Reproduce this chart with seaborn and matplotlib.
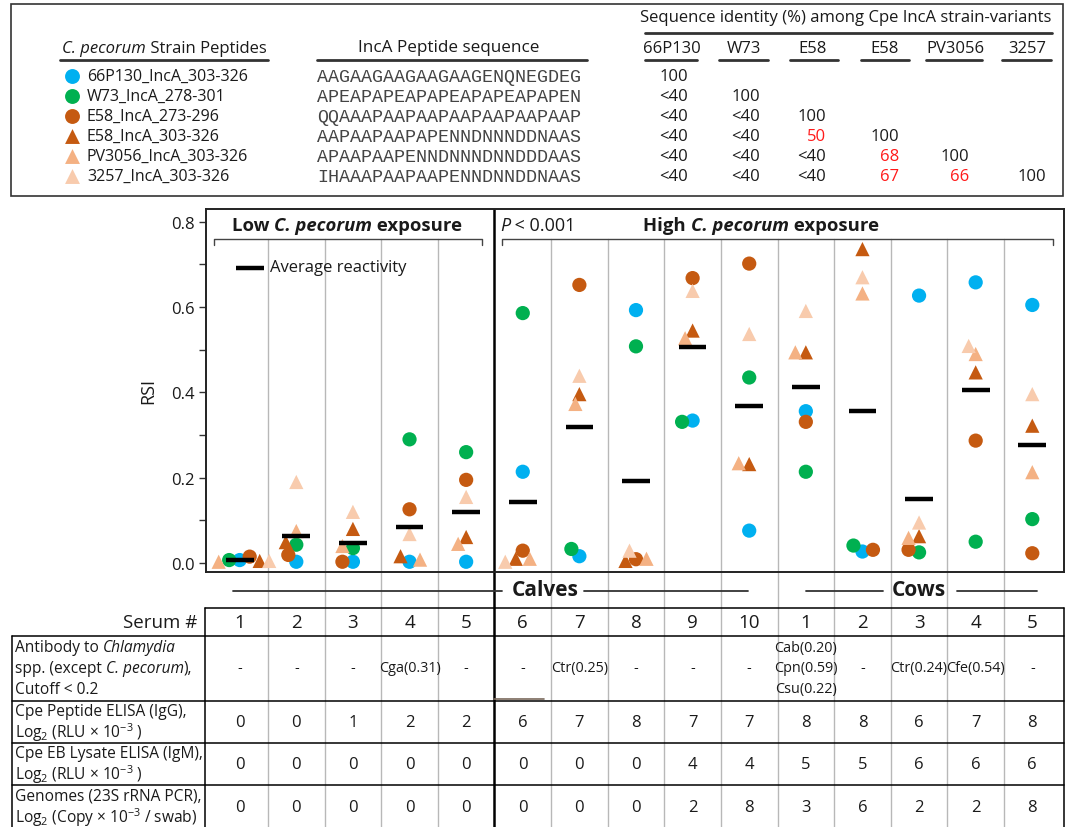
import numpy as np
import pandas as pd
import matplotlib
matplotlib.use("Agg")
import matplotlib.pyplot as plt
import seaborn as sns
from matplotlib.ticker import FormatStrFormatter
from matplotlib.patches import Rectangle

# ---------------- data ----------------
serum_ids = ["1", "2", "3", "4", "5", "6", "7", "8", "9", "10", "1", "2", "3", "4", "5"]
group_names = ["Calves", "Cows"]
group_sizes = [10, 5]

peptides = ["66P130_IncA_303-326", "W73_IncA_278-301", "E58_IncA_273-296",
            "E58_IncA_303-326", "PV3056_IncA_303-326", "3257_IncA_303-326"]
sequences = ["AAGAAGAAGAAGAAGENQNEGDEG", "APEAPAPEAPAPEAPAPEAPAPEN",
             "QQAAAPAAPAAPAAPAAPAAPAAP", "AAPAAPAAPAPENNDNNNDDNAAS",
             "APAAPAAPENNDNNNDNNDDDAAS", "IHAAAPAAPAAPENNDNNDDNAAS"]
strain_headers = ["66P130", "W73", "E58", "E58", "PV3056", "3257"]
identity = [["100"],
            ["<40", "100"],
            ["<40", "<40", "100"],
            ["<40", "<40", "50", "100"],
            ["<40", "<40", "<40", "68", "100"],
            ["<40", "<40", "<40", "67", "66", "100"]]

rsi_66P130 = [0.007, 0.003, 0.003, 0.003, 0.003, 0.214, 0.016, 0.593, 0.334, 0.076, 0.356, 0.027, 0.627, 0.658, 0.605]
rsi_W73 = [0.007, 0.043, 0.035, 0.290, 0.260, 0.586, 0.033, 0.508, 0.331, 0.435, 0.214, 0.041, 0.025, 0.050, 0.103]
rsi_E58_273 = [0.015, 0.019, 0.003, 0.126, 0.195, 0.029, 0.652, 0.009, 0.668, 0.702, 0.331, 0.031, 0.031, 0.287, 0.023]
rsi_E58_303 = [0.005, 0.049, 0.080, 0.016, 0.061, 0.010, 0.396, 0.005, 0.545, 0.232, 0.494, 0.736, 0.063, 0.447, 0.322]
rsi_PV3056 = [0.003, 0.075, 0.040, 0.008, 0.045, 0.010, 0.373, 0.010, 0.527, 0.234, 0.494, 0.632, 0.059, 0.490, 0.213]
rsi_3257 = [0.005, 0.190, 0.120, 0.068, 0.155, 0.003, 0.439, 0.029, 0.638, 0.537, 0.591, 0.670, 0.095, 0.509, 0.396]

antibody_other = ["-", "-", "-", "Cga(0.31)", "-", "-", "Ctr(0.25)", "-", "-", "-",
                  "Cab(0.20)\nCpn(0.59)\nCsu(0.22)", "-", "Ctr(0.24)", "Cfe(0.54)", "-"]
peptide_elisa_igg = [0, 0, 1, 2, 2, 6, 7, 8, 7, 7, 8, 8, 6, 7, 8]
eb_lysate_igm = [0, 0, 0, 0, 0, 0, 0, 0, 4, 4, 5, 5, 6, 6, 6]
genomes_pcr = [0, 0, 0, 0, 0, 0, 0, 0, 2, 8, 3, 6, 2, 2, 8]

colors = ["#00b0f0", "#00b050", "#c55a11", "#c55a11", "#f4b183", "#f8cbad"]
marker_shapes = ["o", "o", "o", "^", "^", "^"]

# ---------------- style ----------------
sns.set_theme(style="white")
plt.rcParams["font.family"] = ["Open Sans", "DejaVu Sans"]
plt.rcParams["mathtext.fontset"] = "custom"
plt.rcParams["mathtext.rm"] = "Open Sans"
plt.rcParams["mathtext.it"] = "Open Sans:italic"
plt.rcParams["mathtext.bf"] = "Open Sans:bold"
INK = "#1a1a1a"

W, H = 1070, 828
fig = plt.figure(figsize=(W / 100, H / 100), dpi=100)
fig.patch.set_facecolor("white")

# overlay in pixel units for the frame, tables and annotations
ov = fig.add_axes([0, 0, 1, 1], zorder=0)
ov.set_xlim(0, W)
ov.set_ylim(H, 0)
ov.axis("off")

ax = fig.add_axes([206 / W, 1 - 573 / H, (1064 - 206) / W, (573 - 210) / H], zorder=1)
ax.patch.set_alpha(0)
ax.set_xlim(-0.595, 14.56)
ax.set_ylim(-0.021, 0.830)

renderer = fig.canvas.get_renderer()


def rich(x, y, parts, ha="left", size=12, color=INK, va="center"):
    """Draw a run of differently styled pieces side by side on the overlay."""
    items = []
    for s, props in parts:
        t = ov.text(0, y, s, ha="left", va=va, fontsize=size, color=color, **props)
        items.append((t, t.get_window_extent(renderer).width))
    total = sum(w for _, w in items)
    x0 = {"left": x, "center": x - total / 2, "right": x - total}[ha]
    for t, w in items:
        t.set_x(x0)
        x0 += w


def colpx(v):
    return ax.transData.transform((v, 0))[0]


IT = {"style": "italic"}
RM = {}
BD = {"weight": "bold"}
BI = {"weight": "bold", "style": "italic"}

# ---------------- scatter data ----------------
series = dict(zip(peptides, [rsi_66P130, rsi_W73, rsi_E58_273, rsi_E58_303, rsi_PV3056, rsi_3257]))
records = []
for pep, vals in series.items():
    for c, v in enumerate(vals):
        records.append((c, pep, v))
df = pd.DataFrame(records, columns=["column", "peptide", "RSI"])

# swarm-style horizontal spreading in pixel space
p0 = ax.transData.transform((0, 0))
p1 = ax.transData.transform((1, 1))
ppx, ppy = p1[0] - p0[0], p1[1] - p0[1]
min_gap = 10.5
steps = np.arange(0.5, 30, 0.5)
cands = [0.0] + [s * sg for s in steps for sg in (-1, 1)]
df["xpos"] = df["column"].astype(float)
for c, sub in df.groupby("column"):
    placed = []
    for idx, row in sub.iterrows():
        y = row.RSI * ppy
        for d in cands:
            if all((d - px) ** 2 + (y - py) ** 2 >= min_gap ** 2 for px, py in placed):
                break
        placed.append((d, y))
        df.at[idx, "xpos"] = c + d / ppx

palette = dict(zip(peptides, colors))
markers = dict(zip(peptides, marker_shapes))
sns.scatterplot(data=df, x="xpos", y="RSI", hue="peptide", style="peptide",
                palette=palette, markers=markers, s=105, linewidth=0,
                legend=False, ax=ax, zorder=3, clip_on=False)

means = df.groupby("column")["RSI"].mean()
ax.hlines(means.values, means.index - 0.245, means.index + 0.245,
          color="black", lw=3.2, zorder=5)

ax.set_xticks([])
ax.set_yticks(np.arange(0, 0.81, 0.2))
ax.set_yticks(np.arange(0.1, 0.8, 0.2), minor=True)
ax.yaxis.set_major_formatter(FormatStrFormatter("%.1f"))
ax.tick_params(axis="y", which="both", direction="out", length=5, width=1,
               color="#333333", left=True, labelsize=12, pad=3, labelcolor=INK)
for sp in ax.spines.values():
    sp.set_color("#222222")
    sp.set_linewidth(1.4)
ax.set_xlabel("")
ax.set_ylabel("RSI", fontsize=13, labelpad=10, color=INK)

# ---------------- column separators ----------------
n_cols = len(serum_ids)
for k in range(n_cols - 1):
    x = colpx(k + 0.5)
    if k == group_sizes[0] // 2 - 1:
        ov.plot([x, x], [210, H], color="black", lw=1.8, solid_capstyle="butt")
    else:
        ov.plot([x, x], [240, H], color="#b8b8b8", lw=1.0)

# exposure brackets and headings
for x0, x1 in [(214, 482), (502, 1053)]:
    ov.plot([x0, x0, x1, x1], [246, 240, 240, 246], color="#444444", lw=1.0)
rich(347, 226, [("Low ", BD), ("C. pecorum", BI), (" exposure", BD)], ha="center", size=13.3)
rich(761, 226, [("High ", BD), ("C. pecorum", BI), (" exposure", BD)], ha="center", size=13.3)
rich(500, 226, [("P", IT), (" < 0.001", RM)], ha="left", size=13)

# average-reactivity key
ov.plot([236, 264], [269, 269], color="black", lw=3.2, solid_capstyle="butt")
ov.text(270, 268, "Average reactivity", fontsize=12, va="center", color=INK)

# group labels under the plot
ov.plot([233, 502], [592, 592], color="#333333", lw=1.3)
ov.plot([584, 748], [592, 592], color="#333333", lw=1.3)
ov.text(545, 591, group_names[0], fontsize=15, weight="bold", ha="center", va="center", color=INK)
ov.plot([806, 883], [592, 592], color="#333333", lw=1.3)
ov.plot([957, 1037], [592, 592], color="#333333", lw=1.3)
ov.text(919, 591, group_names[1], fontsize=15, weight="bold", ha="center", va="center", color=INK)

# ---------------- lower table ----------------
tl = dict(color="black", lw=1.1)
ov.plot([205, 1064], [609, 609], **tl)
for yy in [637, 702, 744, 786]:
    ov.plot([12, 1064], [yy, yy], **tl)
ov.plot([205, 205], [609, H], **tl)
ov.plot([12, 12], [637, H], **tl)
ov.plot([1064, 1064], [609, H], **tl)
ov.plot([colpx(4.5), colpx(5.38)], [700, 700], color="#7a6a5c", lw=1.2)

ov.text(197, 623, "Serum #", fontsize=13.5, ha="right", va="center", color=INK)
for c, sid in enumerate(serum_ids):
    xc = colpx(c)
    ov.text(xc, 623, sid, fontsize=13.5, ha="center", va="center", color=INK)
    ov.text(xc, 669, antibody_other[c], fontsize=10.4, ha="center", va="center",
            color=INK, linespacing=1.5)
    ov.text(xc, 723, str(peptide_elisa_igg[c]), fontsize=12, ha="center", va="center", color=INK)
    ov.text(xc, 765, str(eb_lysate_igm[c]), fontsize=12, ha="center", va="center", color=INK)
    ov.text(xc, 808, str(genomes_pcr[c]), fontsize=12, ha="center", va="center", color=INK)

LS = 11.2
rich(15, 648, [("Antibody to ", RM), ("Chlamydia", IT)], size=LS)
rich(15, 669, [("spp. (except ", RM), ("C. pecorum", IT), ("),", RM)], size=LS)
rich(15, 690, [("Cutoff < 0.2", RM)], size=LS)
log_rlu = r"Log$_2$ (RLU $\times$ 10$^{-3}$ )"
rich(15, 712, [("Cpe Peptide ELISA (IgG),", RM)], size=LS)
rich(15, 733, [(log_rlu, RM)], size=LS)
rich(15, 754, [("Cpe EB Lysate ELISA (IgM),", RM)], size=LS)
rich(15, 775, [(log_rlu, RM)], size=LS)
rich(15, 797, [("Genomes (23S rRNA PCR),", RM)], size=LS)
rich(15, 818, [(r"Log$_2$ (Copy $\times$ 10$^{-3}$ / swab)", RM)], size=LS)

# ---------------- peptide panel ----------------
ov.add_patch(Rectangle((11, 5), 1052, 192, fill=False, ec="#333333", lw=1.2))

rich(62, 49, [("C. pecorum", IT), (" Strain Peptides", RM)], size=12)
ov.plot([60, 268], [61, 61], color="#333333", lw=2.0)
ov.text(449, 48, "IncA Peptide sequence", fontsize=12.3, ha="center", va="center", color=INK)
ov.plot([317, 587], [61, 61], color="#333333", lw=2.0)
ov.text(846, 18, "Sequence identity (%) among Cpe IncA strain-variants", fontsize=12,
        ha="center", va="center", color=INK)
ov.plot([645, 1052], [34, 34], color="#333333", lw=2.0)

row_y = [77, 97, 117, 137, 157, 177]
head_x = [672, 744, 813, 885, 955, 1027]
under = [(645, 697), (719, 768), (790, 838), (861, 909), (926, 982), (1002, 1051)]
right_x = [688, 760, 826, 899, 969, 1046]
for j, hdr in enumerate(strain_headers):
    ov.text(head_x[j], 49, hdr, fontsize=12, ha="center", va="center", color=INK)
    ov.plot(list(under[j]), [61, 61], color="#333333", lw=2.0)

for i, pep in enumerate(peptides):
    ov.scatter([72], [row_y[i]], s=115, marker=marker_shapes[i], color=colors[i], linewidths=0)
    ov.text(87, row_y[i], pep, fontsize=11.5, va="center", color=INK)
    ov.text(317, row_y[i], sequences[i], fontsize=13.2, family="Liberation Mono",
            va="center", color="#444444")
    for j, val in enumerate(identity[i]):
        red = val not in ("100",) and not val.startswith("<")
        ov.text(right_x[j], row_y[i], val, fontsize=12, ha="right", va="center",
                color="#ff1a1a" if red else INK)

fig.savefig("out.png", dpi=100)
